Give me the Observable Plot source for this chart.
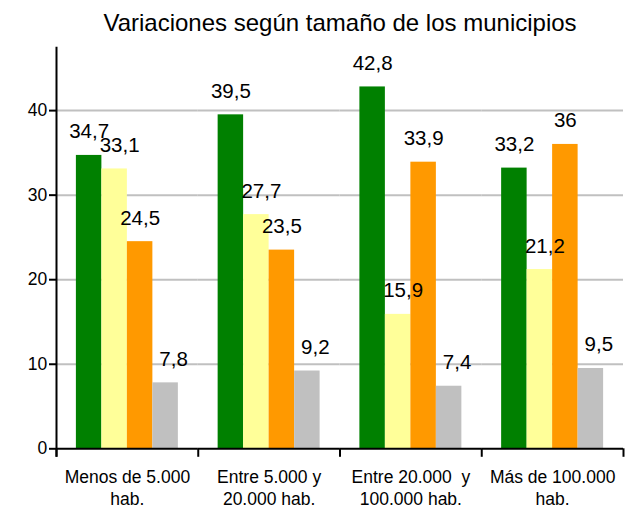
<!DOCTYPE html>
<html><head><meta charset="utf-8">
<script src="https://cdn.jsdelivr.net/npm/d3@7"></script>
<script src="https://cdn.jsdelivr.net/npm/@observablehq/plot@0.6"></script>
<style>
body{margin:0;background:#fff;font-family:"Liberation Sans",Arial,sans-serif;}
#title{width:626px;box-sizing:border-box;padding-left:54px;padding-top:11px;height:35px;font-size:24px;line-height:24px;text-align:center;color:#000;white-space:nowrap;overflow:visible;}
#chart svg{display:block}
</style></head><body>
<div id="title">Variaciones según tamaño de los municipios</div>
<div id="chart"></div>
<script>
// ---- data ----
const categories = ["Menos de 5.000\nhab.", "Entre 5.000 y\n20.000 hab.", "Entre 20.000  y\n100.000 hab.", "Más de 100.000\nhab."];
const series = ["Serie 1", "Serie 2", "Serie 3", "Serie 4"];
const serie1 = [34.7, 39.5, 42.8, 33.2];
const serie2 = [33.1, 27.7, 15.9, 21.2];
const serie3 = [24.5, 23.5, 33.9, 36];
const serie4 = [7.8, 9.2, 7.4, 9.5];
const yTicks = [0, 10, 20, 30, 40];

// ---- styles / layout ----
const colors = ["#008000", "#FFFF99", "#FF9900", "#C0C0C0"];
const labelDx = [0, 5, 0, 8];
const W = 626, H = 471, mL = 56, mR = 3, mT = 11.7, mB = 57.7;
const yMax = 47.5;
const po = 0.78;

const values = [serie1, serie2, serie3, serie4];
const data = [];
categories.forEach((c, ci) => series.forEach((s, si) => data.push({category: c, series: s, value: values[si][ci]})));

const bw = (W - mL - mR) / categories.length;
const step = bw / (series.length + 2 * po);
const edgeOffset = po * step + step / 2;
const yPerPx = yMax / (H - mT - mB);
const tickLen = 8.5 * yPerPx;
const fmt = v => String(v).replace(".", ",");

const marks = [
  Plot.gridY({ticks: [10, 20, 30, 40], stroke: "#c0c0c0", strokeOpacity: 1, strokeWidth: 2}),
  Plot.barY(data, {fx: "category", x: "series", y: "value", fill: "series"}),
  Plot.ruleY([0], {stroke: "black", strokeWidth: 2}),
  Plot.ruleX([series[0]], {x: d => d, dx: -edgeOffset, y1: 0, y2: -tickLen, stroke: "black", strokeWidth: 2}),
  Plot.ruleX([categories[categories.length - 1]], {fx: d => d, x: () => series[series.length - 1], dx: edgeOffset, y1: 0, y2: -tickLen, stroke: "black", strokeWidth: 2}),
  Plot.ruleX([categories[0]], {fx: d => d, x: () => series[0], dx: -edgeOffset, y1: -tickLen, y2: yMax, stroke: "black", strokeWidth: 2}),
  Plot.axisY({ticks: yTicks, tickSize: 7, tickPadding: 2.3, fontSize: 17.5, strokeWidth: 2, label: null, tickFormat: d => String(d)}),
  Plot.axisFx({anchor: "bottom", tickSize: 0, tickPadding: 19, fontSize: 17.5, lineHeight: 1.24, label: null})
];
series.forEach((s, i) => {
  marks.push(Plot.text(data.filter(d => d.series === s), {
    fx: "category", x: "series", y: "value", text: d => fmt(d.value),
    dy: -17, dx: labelDx[i], lineAnchor: "bottom", fontSize: 20.5, fill: "black"
  }));
});

const chart = Plot.plot({
  width: W, height: H,
  marginLeft: mL, marginRight: mR, marginTop: mT, marginBottom: mB,
  style: {fontFamily: "'Liberation Sans', Arial, sans-serif", fontSize: "17px", background: "white", overflow: "visible", color: "black"},
  fx: {domain: categories, padding: 0, round: false},
  x: {domain: series, paddingInner: 0, paddingOuter: po, round: false, axis: null},
  y: {domain: [0, yMax]},
  color: {domain: series, range: colors},
  marks
});
document.getElementById("chart").appendChild(chart);
</script>
</body></html>
